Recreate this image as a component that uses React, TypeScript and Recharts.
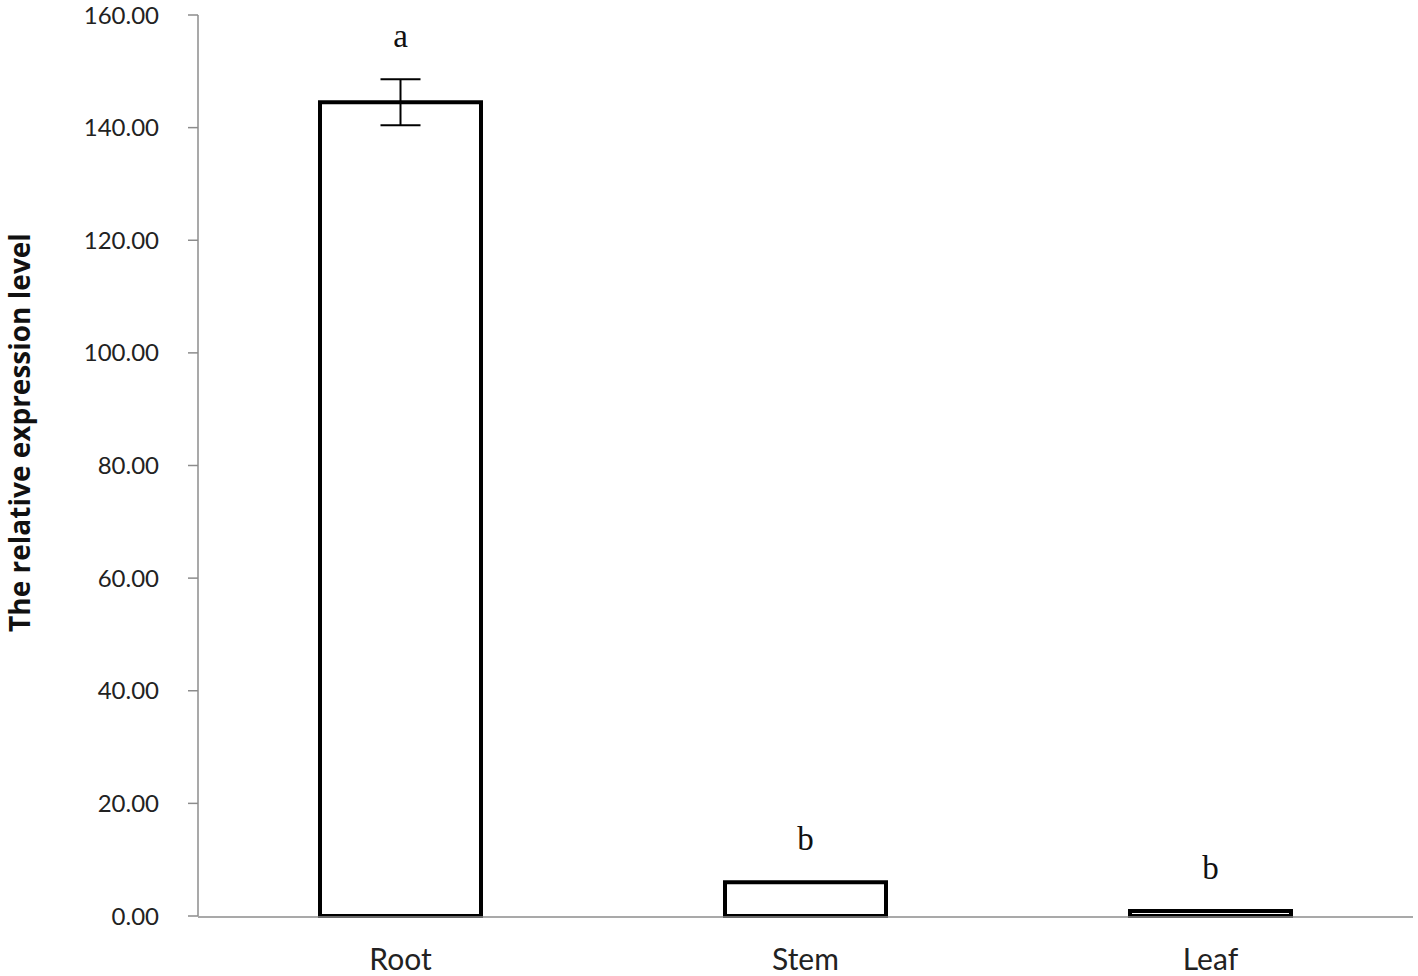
import {
  Bar,
  ComposedChart,
  ErrorBar,
  Label,
  Scatter,
  XAxis,
  YAxis,
} from "recharts";

const tissues = ["Root", "Stem", "Leaf"];
const expression = [144.5, 6.0, 0.9];
const errors = [4.1, 0, 0];
const letters = ["a", "b", "b"];
const yTicks = [0, 20, 40, 60, 80, 100, 120, 140, 160];
const edgeTicks = [0, 1, 2, 3];

const AXIS_GREY = "#8c8c8c";
const SANS = "Lato, 'Open Sans', sans-serif";

const data = tissues.map((t, i) => ({
  tissue: t,
  value: expression[i],
  err: errors[i],
  sig: letters[i],
  labelAt: expression[i] + errors[i],
}));

// significance letter drawn a little above the bar / error cap
function SigLetter(props: any) {
  const { cx, cy, payload } = props;
  if (cx == null || cy == null) return null;
  return (
    <text
      x={cx}
      y={cy - 32}
      textAnchor="middle"
      fontFamily="'Liberation Serif', 'DejaVu Serif', serif"
      fontSize={33}
      fill="#111"
    >
      {payload.sig}
    </text>
  );
}

function YTitle(props: any) {
  const vb = props.viewBox || { x: 0, y: 0, height: 0 };
  const x = 30;
  const y = vb.y + vb.height / 2 - 33;
  return (
    <text
      x={x}
      y={y}
      transform={`rotate(-90, ${x}, ${y})`}
      textAnchor="middle"
      fontFamily="'Open Sans', sans-serif"
      fontWeight="bold"
      fontSize={28}
      fill="#111"
    >
      The relative expression level
    </text>
  );
}

export default function App() {
  return (
    <div style={{ position: "absolute", top: 0, left: 0, background: "#fff" }}>
      <ComposedChart
        width={1418}
        height={976}
        data={data}
        margin={{ top: 15, right: 5, bottom: 0, left: 0 }}
      >
        <XAxis
          xAxisId="cat"
          dataKey="tissue"
          height={1}
          axisLine={false}
          tickLine={false}
          tickSize={0}
          tickMargin={33}
          tick={{ fontSize: 30, fill: "#222", fontFamily: SANS }}
        />
        {/* category boundaries: ticks between groups like the original */}
        <XAxis
          xAxisId="edges"
          type="number"
          domain={[0, 3]}
          allowDataOverflow
          ticks={edgeTicks}
          tick={false}
          tickSize={10}
          height={59}
          axisLine={{ stroke: AXIS_GREY, strokeWidth: 1.5 }}
          tickLine={{ stroke: AXIS_GREY, strokeWidth: 1.5 }}
        />
        <YAxis
          width={198}
          domain={[0, 160]}
          ticks={yTicks}
          interval={0}
          tickFormatter={(v: number) => v.toFixed(2)}
          tickSize={10}
          tickMargin={29}
          tick={{ fontSize: 24, fill: "#222", fontFamily: SANS }}
          axisLine={{ stroke: AXIS_GREY, strokeWidth: 1.5 }}
          tickLine={{ stroke: AXIS_GREY, strokeWidth: 1.5 }}
        >
          <Label content={<YTitle />} />
        </YAxis>
        <Bar
          xAxisId="cat"
          dataKey="value"
          barSize={161}
          fill="#fff"
          stroke="#000"
          strokeWidth={4}
          isAnimationActive={false}
        >
          <ErrorBar
            dataKey="err"
            width={20}
            stroke="#000"
            strokeWidth={2}
            direction="y"
            isAnimationActive={false}
          />
        </Bar>
        <Scatter
          xAxisId="cat"
          dataKey="labelAt"
          shape={<SigLetter />}
          isAnimationActive={false}
        />
      </ComposedChart>
    </div>
  );
}
